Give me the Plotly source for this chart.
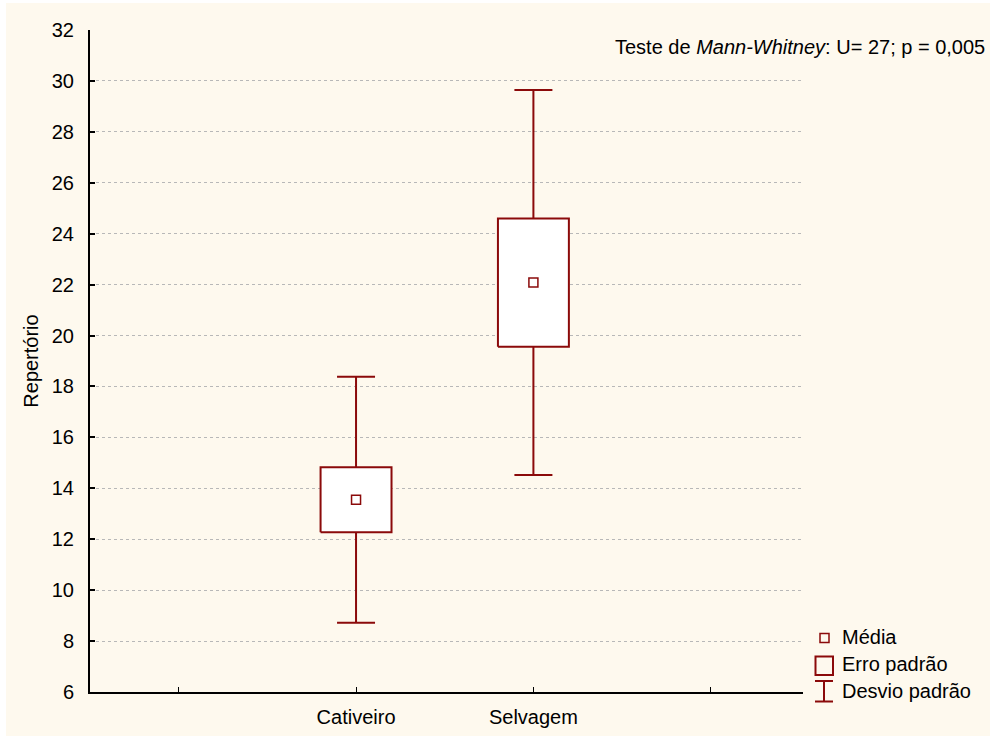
import plotly.graph_objects as go

# Repertório por grupo: média, erro padrão e desvio padrão
groups = ["Cativeiro", "Selvagem"]
group_pos = [1, 2]
means = [13.55, 22.08]
std_err = [1.28, 2.52]
std_dev = [4.83, 7.56]

tick_pos = [0, 1, 2, 3]
tick_text = ["", "Cativeiro", "Selvagem", ""]
y_ticks = [6, 8, 10, 12, 14, 16, 18, 20, 22, 24, 26, 28, 30, 32]

RED = "#8B0A0A"
CREAM = "#FEF9EE"
FONT = "Liberation Sans, Arial, sans-serif"
FS = 20

W, H = 990, 737
L, R, T, B = 90, 187, 30, 45
PW, PH = W - L - R, H - T - B


def px(x):
    return (x - L) / PW


def py(y):
    return (H - B - y) / PH


fig = go.Figure()

# Desvio padrão: whiskers with caps
fig.add_trace(go.Scatter(
    x=group_pos, y=means, mode="markers",
    marker=dict(size=1, color="rgba(0,0,0,0)"),
    error_y=dict(type="data", array=std_dev, symmetric=True,
                 color=RED, thickness=2, width=19),
    showlegend=False, hoverinfo="skip",
))

# Erro padrão: white boxes
half_w = 0.2
for xc, m, se in zip(group_pos, means, std_err):
    fig.add_trace(go.Scatter(
        x=[xc - half_w, xc + half_w, xc + half_w, xc - half_w, xc - half_w],
        y=[m - se, m - se, m + se, m + se, m - se],
        mode="lines", fill="toself", fillcolor="white",
        line=dict(color=RED, width=2),
        showlegend=False, hoverinfo="skip",
    ))

# Média
fig.add_trace(go.Scatter(
    x=group_pos, y=means, mode="markers",
    marker=dict(symbol="square-open", size=9, color=RED, line=dict(width=1.5)),
    showlegend=False,
))

shapes = [
    # cream page background
    dict(type="rect", xref="paper", yref="paper",
         x0=px(6), x1=px(990), y0=py(736), y1=py(3),
         fillcolor=CREAM, line=dict(width=0), layer="below"),
    # legend: Média
    dict(type="rect", xref="paper", yref="paper",
         x0=px(820), x1=px(829), y0=py(642.5), y1=py(633.5),
         line=dict(color=RED, width=1.5), fillcolor="rgba(0,0,0,0)"),
    # legend: Erro padrão
    dict(type="rect", xref="paper", yref="paper",
         x0=px(815.5), x1=px(833), y0=py(675), y1=py(656.5),
         line=dict(color=RED, width=2), fillcolor="rgba(0,0,0,0)"),
    # legend: Desvio padrão
    dict(type="line", xref="paper", yref="paper",
         x0=px(824), x1=px(824), y0=py(701.5), y1=py(681),
         line=dict(color=RED, width=2)),
    dict(type="line", xref="paper", yref="paper",
         x0=px(815), x1=px(833), y0=py(681), y1=py(681),
         line=dict(color=RED, width=2)),
    dict(type="line", xref="paper", yref="paper",
         x0=px(815), x1=px(833), y0=py(701.5), y1=py(701.5),
         line=dict(color=RED, width=2)),
]

annotations = [
    dict(text="Teste de <i>Mann-Whitney</i>: U= 27; p = 0,005",
         xref="paper", yref="paper", x=px(987), y=py(47),
         xanchor="right", yanchor="middle", showarrow=False,
         font=dict(size=FS, color="black", family=FONT)),
]
for label, yc in [("Média", 637), ("Erro padrão", 664), ("Desvio padrão", 691)]:
    annotations.append(dict(
        text=label, xref="paper", yref="paper", x=px(840), y=py(yc),
        xanchor="left", yanchor="middle", showarrow=False,
        font=dict(size=FS, color="black", family=FONT)))

fig.update_layout(
    width=W, height=H,
    margin=dict(l=L, r=R, t=T, b=B, autoexpand=False),
    paper_bgcolor="white",
    plot_bgcolor="white",
    font=dict(family=FONT, size=FS, color="black"),
    shapes=shapes,
    annotations=annotations,
    showlegend=False,
    xaxis=dict(
        range=[-0.5, 3.52], tickmode="array", tickvals=tick_pos, ticktext=tick_text,
        showgrid=False, zeroline=False, showline=True, linecolor="black", linewidth=2,
        ticks="inside", ticklen=5, tickwidth=1, tickcolor="black",
        tickfont=dict(size=FS), ticklabelstandoff=6, fixedrange=True,
        automargin=False,
    ),
    yaxis=dict(
        range=[6, 32], tickmode="array", tickvals=y_ticks,
        showgrid=True, gridcolor="#B8B8B8", griddash="dot", gridwidth=1,
        zeroline=False, showline=True, linecolor="black", linewidth=2,
        ticks="inside", ticklen=5, tickwidth=2, tickcolor="black",
        tickfont=dict(size=FS), ticklabelstandoff=10,
        title=dict(text="Repertório", font=dict(size=FS), standoff=8),
        fixedrange=True, automargin=False,
    ),
)

fig.write_html("out.html")
